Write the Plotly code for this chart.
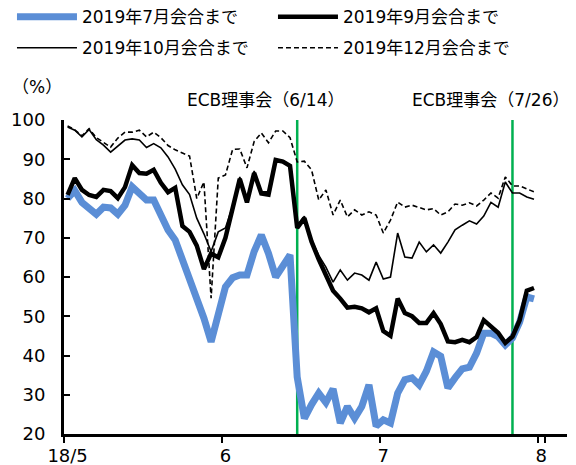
import pandas as pd
import plotly.graph_objects as go

# business days, May 1 2018 onward (axis keeps a few empty days after July)
dates = pd.bdate_range("2018-05-01", "2018-08-07").strftime("%Y-%m-%d").tolist()

jul_meeting = [80, 82, 79, 77.6, 76, 77.8, 77.6, 76, 78.3, 83, 81, 79.6, 79.6, 75.8, 72, 69.4,
               64.5, 60, 55, 49.5, 43.5, 51, 57.5, 59.8, 60.5, 60.5, 66.5, 70.7, 66, 60, 62.5, 65.6,
               34.5, 24, 27.5, 30.4, 28, 31.5, 22.8, 27, 24, 27, 32.5, 22, 23.6, 22.8, 30.4, 33.8,
               34.3, 32.5, 36, 40.9, 39.8, 31.7, 34.3, 36.6, 37, 40.6, 45.7, 45.7, 44.8, 42.7,
               44.5, 48.5, 54.9, 54.4]
sep_meeting = [80.9, 85.2, 82.2, 80.9, 80.4, 82.2, 81.9, 80.1, 82.9, 88.5, 86.5, 86.3, 87.3, 84, 81.6, 82.7,
               73, 71.5, 68, 62, 66, 65, 70, 77, 85, 79, 86.5, 81.3, 81, 89.8, 89.4, 88.3,
               72.5, 75, 69, 64.5, 60.5, 56.5, 54.5, 52.2, 52.4, 52, 51, 52, 46.2, 45, 54.5, 50.8,
               50, 48.3, 48.3, 50.8, 48, 43.6, 43.4, 44, 43.4, 44.7, 49, 47.3, 45.8, 43.2,
               44.8, 49, 56.5, 57.2]
oct_meeting = [98.2, 97.4, 95.7, 97.6, 95, 93.6, 91.8, 93.4, 94.9, 95.2, 94.9, 93, 94, 92.9, 90.6, 87.5,
               83.5, 81, 75, 71, 66.5, 71.5, 72.5, 78, 85.5, 79.5, 87, 81.8, 81.7, 90, 89.6, 88.5,
               73, 75.5, 69.5, 65.5, 62.5, 58.7, 61.8, 59.2, 61, 60.5, 59.2, 63.8, 59.5, 60, 71.2, 65.1,
               64.8, 68.9, 66.4, 68.2, 66.1, 68.9, 72, 73.2, 74.3, 73.5, 75.5, 79, 77.8, 84.2,
               81.4, 81.4, 80.4, 79.8]
dec_meeting = [98.5, 97.5, 96, 97.8, 95.5, 94.4, 93.1, 95.4, 96.9, 96.9, 97.4, 95.7, 96.9, 95.5, 93.5, 92.4,
               91.6, 90.8, 80, 84.2, 54.6, 85.2, 86, 92.5, 92.6, 87.8, 94.5, 96.7, 94.2, 97.2, 97.2, 95.5,
               89.3, 89.5, 87.3, 79.6, 82.2, 75.8, 79.6, 75.3, 77.1, 75.8, 76.6, 75.8, 71.2, 74.5, 79.1, 77.8,
               78.3, 77.8, 77.1, 77.4, 75.8, 76.6, 78.6, 78.3, 78.9, 78.1, 79.6, 81.4, 80.1, 85.5,
               83.2, 83.2, 82.4, 81.7]

series_names = ["2019年7月会合まで", "2019年9月会合まで", "2019年10月会合まで", "2019年12月会合まで"]

tick_labels = ["18/5", "6", "7", "8"]
tick_dates = dates[::22][:4]

ecb_dates = ["2018-06-14", "2018-07-26"]
ecb_labels = ["ECB理事会（6/14）", "ECB理事会（7/26）"]

FONT = "DejaVu Sans, Noto Sans CJK JP, sans-serif"

styles = [
    dict(color="#5B8ED6", width=7, dash="solid"),
    dict(color="black", width=4.5, dash="solid"),
    dict(color="black", width=1.6, dash="solid"),
    dict(color="black", width=1.6, dash="5px,3px"),
]

# one legend per entry -> 2x2 grid at the top (x, y in container fraction)
legend_pos = [(0.007, 0.980), (0.4665, 0.980), (0.007, 0.912), (0.4665, 0.912)]
legend_ids = ["legend", "legend2", "legend3", "legend4"]

fig = go.Figure()

for i, (name, vals) in enumerate(zip(series_names, [jul_meeting, sep_meeting, oct_meeting, dec_meeting])):
    fig.add_trace(go.Scatter(
        x=dates[:len(vals)], y=vals, mode="lines", name=name,
        line=styles[i], legend=legend_ids[i], showlegend=True,
    ))

for d, label, shift in zip(ecb_dates, ecb_labels, [-32, -22]):
    fig.add_shape(type="line", x0=d, x1=d, xref="x", y0=0, y1=1, yref="y domain",
                  line=dict(color="#00B050", width=2.5), layer="below")
    fig.add_annotation(x=d, y=1, xref="x", yref="paper", text=label, showarrow=False,
                       xanchor="center", yanchor="bottom", yshift=8, xshift=shift, font=dict(size=17))

fig.add_annotation(x=-0.054, y=1.105, xref="paper", yref="paper", text="（%）",
                   xanchor="center", yanchor="middle", showarrow=False, font=dict(size=17))

legends = {}
for lid, (lx, ly) in zip(legend_ids, legend_pos):
    legends[lid] = dict(orientation="h", xref="container", yref="container", x=lx, y=ly,
                        xanchor="left", yanchor="middle", itemwidth=60, visible=True,
                        font=dict(size=17), bgcolor="rgba(0,0,0,0)")

# page has an 8px body margin, so the figure is 8px smaller than the window
fig.update_layout(
    width=568, height=457,
    margin=dict(l=56, r=9, t=112, b=31, autoexpand=False),
    plot_bgcolor="white", paper_bgcolor="white",
    font=dict(family=FONT, size=17, color="black"),
    showlegend=True,
    **legends,
)

fig.update_xaxes(type="category", categoryorder="array", categoryarray=dates,
                 range=[-0.5, 69.6], tickvals=tick_dates, ticktext=tick_labels, tickangle=0,
                 tickson="boundaries", ticks="outside", ticklen=6, tickwidth=2, tickcolor="black",
                 showline=True, linecolor="black", linewidth=3, showgrid=False, automargin=False,
                 tickfont=dict(size=18), ticklabelstandoff=3)
fig.update_yaxes(range=[20, 100], dtick=10, ticks="inside", ticklen=6, tickwidth=2, tickcolor="black",
                 showline=True, linecolor="black", linewidth=3, showgrid=False, zeroline=False,
                 automargin=False, tickfont=dict(size=18), ticklabelstandoff=12)

fig.write_html("out.html")
